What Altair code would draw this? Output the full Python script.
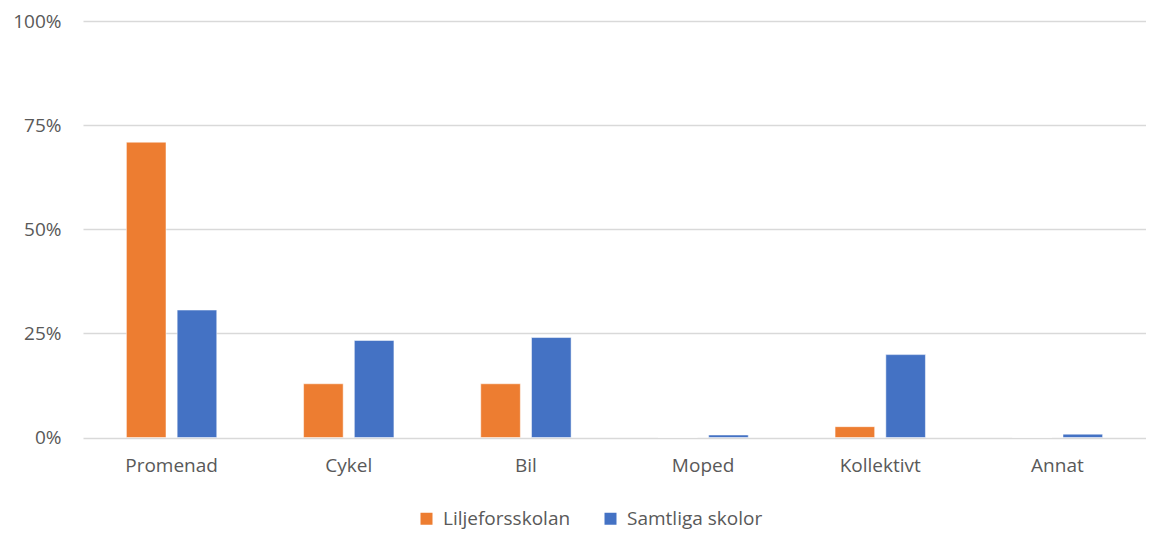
import altair as alt
import pandas as pd

categories = ["Promenad", "Cykel", "Bil", "Moped", "Kollektivt", "Annat"]
series = ["Liljeforsskolan", "Samtliga skolor"]
liljefors = [0.709, 0.129, 0.129, 0.0, 0.026, 0.0]
samtliga = [0.306, 0.233, 0.240, 0.006, 0.199, 0.008]
colors = ["#ED7D31", "#4472C4"]
y_ticks = [0, 0.25, 0.5, 0.75, 1.0]

rows = []
for c, a, b in zip(categories, liljefors, samtliga):
    rows.append({"Kategori": c, "Serie": series[0], "Andel": a})
    rows.append({"Kategori": c, "Serie": series[1], "Andel": b})
df = pd.DataFrame(rows)

FONT = "Open Sans"
TXT = "#595959"

chart = alt.Chart(df).mark_bar(stroke="white", strokeWidth=0.5).encode(
    x=alt.X("Kategori:N", sort=categories, title=None,
            scale=alt.Scale(paddingInner=0.49, paddingOuter=0.245),
            axis=alt.Axis(labelAngle=0, domain=False, ticks=False, labelPadding=19,
                          labelFontSize=19, labelColor=TXT, labelFont=FONT, grid=False)),
    xOffset=alt.XOffset("Serie:N", sort=series, scale=alt.Scale(paddingInner=0.22)),
    y=alt.Y("Andel:Q", title=None,
            scale=alt.Scale(domain=[0, 1]),
            axis=alt.Axis(values=y_ticks, format=".0%", domain=False, ticks=False,
                          labelPadding=22, labelFontSize=19, labelColor=TXT, labelFont=FONT,
                          gridColor="#D9D9D9", gridWidth=1.5)),
    color=alt.Color("Serie:N", sort=series,
                    scale=alt.Scale(domain=series, range=colors),
                    legend=alt.Legend(title=None, orient="none", direction="horizontal",
                                      legendX=334, legendY=488, symbolType="square",
                                      symbolSize=144, symbolStrokeWidth=0,
                                      labelFontSize=19, labelColor=TXT, labelFont=FONT,
                                      columnPadding=30, labelOffset=7)),
).properties(
    width=1063, height=416.5,
    autosize=alt.AutoSizeParams(type="none"),
    padding={"left": 75, "top": 13, "right": 0, "bottom": 96},
).configure_view(stroke=None)

chart.save("out.html", embed_options={"renderer": "svg", "actions": False})
